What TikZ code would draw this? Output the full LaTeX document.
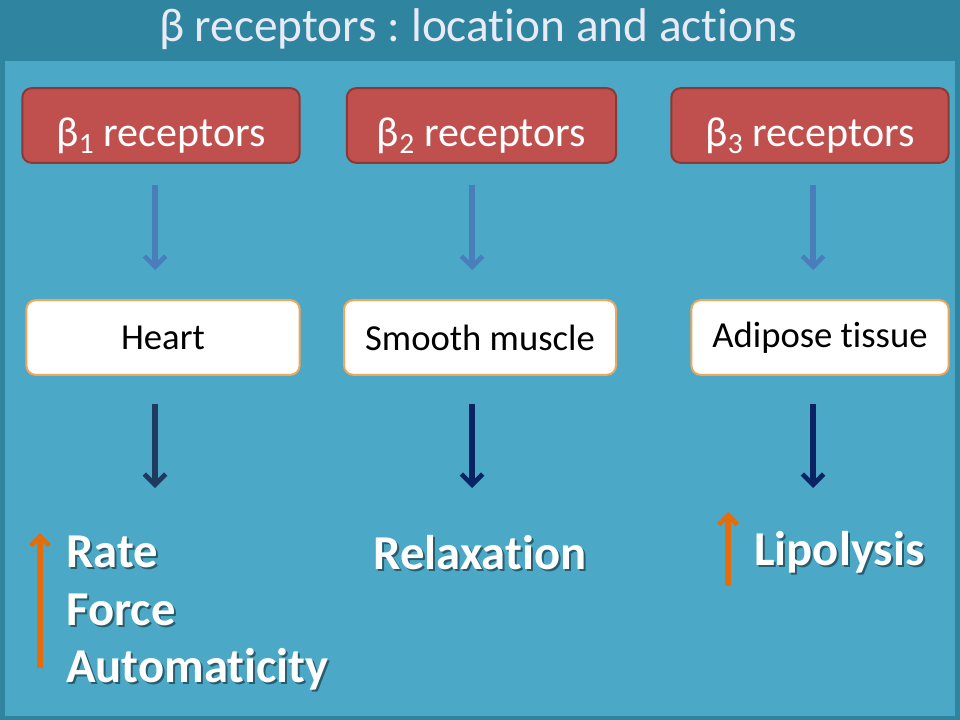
\documentclass[tikz,border=0pt]{standalone}
\usepackage{fontspec}
\setmainfont[Ligatures=NoCommon]{Carlito}
\usetikzlibrary{arrows.meta}
\definecolor{band}{HTML}{2F84A0}
\definecolor{mainbg}{HTML}{4BA9C7}
\definecolor{redfill}{HTML}{C0504D}
\definecolor{redline}{HTML}{8C3836}
\definecolor{orangeline}{HTML}{F2A65A}
\definecolor{arrowblue}{HTML}{4A7EBB}
\definecolor{arrowslate}{HTML}{1F3A5F}
\definecolor{arrownavy}{HTML}{0A2463}
\definecolor{arroworange}{HTML}{E46C0A}
\definecolor{titlecol}{HTML}{E8EAF6}
\frenchspacing
\tikzset{
  recbox/.style={draw=redline, line width=1.5pt, fill=redfill, rounded corners=7pt, text=white, font=\fontsize{31.5}{36}\selectfont, inner sep=0pt, text depth=0pt, text height=31pt},
  tissuebox/.style={draw=orangeline, line width=1.5pt, fill=white, rounded corners=7pt, text=black, font=\fontsize{27.5}{32}\selectfont, inner sep=0pt},
  downarrow/.style={line width=4.5pt, -{Straight Barb[length=8pt,width=16pt,line width=3.5pt]}},
  uparrow/.style={line width=4pt, arroworange, -{Straight Barb[length=7pt,width=14pt,line width=3.5pt]}},
  effect/.style={text=white, font=\bfseries\fontsize{36.5}{44}\selectfont, inner sep=0pt},
  effshadow/.style={text=black, opacity=0.45, font=\bfseries\fontsize{36.5}{44}\selectfont, inner sep=0pt}
}
\begin{document}
\begin{tikzpicture}[x=0.75pt,y=-0.75pt]
\useasboundingbox (0,0) rectangle (960,720);
\fill[band] (0,0) rectangle (960,720);
\fill[mainbg] (5,61) rectangle (955,716);
\node[text=titlecol, font=\fontsize{35.5}{40}\selectfont, anchor=base] (title) at (478,42) {β receptors : location and actions};
% receptor boxes
\node[recbox, minimum width=208pt, minimum height=56pt] (r1) at (161,125.5) {β\textsubscript{1} receptors};
\node[recbox, minimum width=202pt, minimum height=56pt] (r2) at (481.5,125.5) {β\textsubscript{2} receptors};
\node[recbox, minimum width=208pt, minimum height=56pt] (r3) at (810,125.5) {β\textsubscript{3} receptors};
% tissue boxes
\node[tissuebox, minimum width=205pt, minimum height=56pt] (t1) at (163,337.5) {Heart};
\node[tissuebox, minimum width=204pt, minimum height=56pt] (t2) at (480,337.5) {Smooth muscle};
\node[tissuebox, minimum width=193pt, minimum height=56pt] (t3) at (820,337.5) {Adipose tissue};
% arrow coordinates
\coordinate (a1s) at (155,185); \coordinate (a1e) at (155,270);
\coordinate (a2s) at (472,185); \coordinate (a2e) at (472,270);
\coordinate (a3s) at (813,185); \coordinate (a3e) at (813,270);
\draw[downarrow, arrowblue] (a1s) -- (a1e);
\draw[downarrow, arrowblue] (a2s) -- (a2e);
\draw[downarrow, arrowblue] (a3s) -- (a3e);
\coordinate (b1s) at (155,404); \coordinate (b1e) at (155,488);
\coordinate (b2s) at (472,404); \coordinate (b2e) at (472,488);
\coordinate (b3s) at (813,404); \coordinate (b3e) at (813,488);
\draw[downarrow, arrowslate] (b1s) -- (b1e);
\draw[downarrow, arrownavy] (b2s) -- (b2e);
\draw[downarrow, arrownavy] (b3s) -- (b3e);
% effects
\node[effshadow, anchor=base west] (s1a) at (68,569) {Rate};
\node[effect, anchor=base west] (e1a) at (66,567) {Rate};
\node[effshadow, anchor=base west] (s1b) at (68,627) {Force};
\node[effect, anchor=base west] (e1b) at (66,625) {Force};
\node[effshadow, anchor=base west] (s1c) at (68,684) {Automaticity};
\node[effect, anchor=base west] (e1c) at (66,682) {Automaticity};
\node[effshadow, anchor=base] (s2) at (482,571) {Relaxation};
\node[effect, anchor=base] (e2) at (480,569) {Relaxation};
\node[effshadow, anchor=base west] (s3) at (756,567) {Lipolysis};
\node[effect, anchor=base west] (e3) at (754,565) {Lipolysis};
% orange arrows
\coordinate (o1s) at (40,668); \coordinate (o1e) at (40,533);
\coordinate (o2s) at (728,586); \coordinate (o2e) at (728,512);
\draw[uparrow] (o1s) -- (o1e);
\draw[uparrow] (o2s) -- (o2e);
\end{tikzpicture}
\end{document}
